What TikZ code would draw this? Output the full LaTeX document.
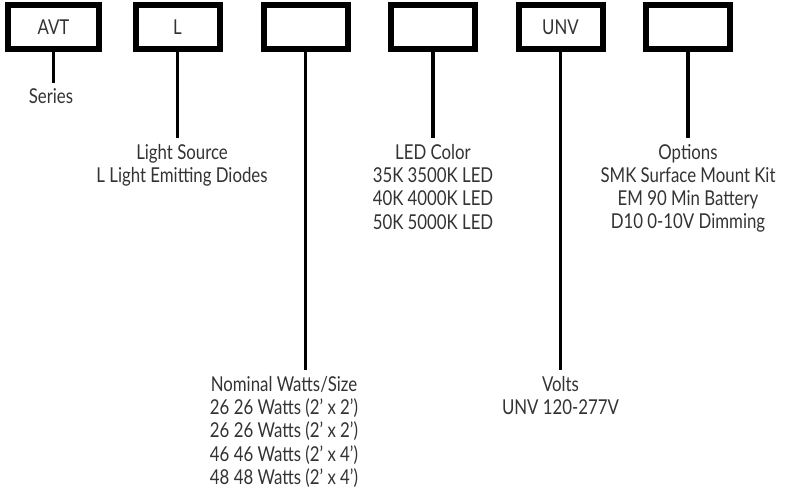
\documentclass[tikz,border=0pt]{standalone}
\usepackage{fontspec}
\setmainfont{Lato}[FakeStretch=0.82]
\usetikzlibrary{positioning}
\tikzset{
  % ordering-code boxes and the descriptions hanging below them
  codebox/.style = {draw=black, line width=6pt, minimum width=84pt,
                    minimum height=44pt, inner sep=0,
                    font=\fontsize{20.5}{23.3}\selectfont, text=black!80},
  stem/.style    = {line width=3.2pt, black},
  desc/.style    = {align=center, inner sep=0, outer sep=6pt, anchor=north,
                    font=\fontsize{20.5}{23.3}\selectfont, text=black!80},
}

\begin{document}
\begin{tikzpicture}[x=1pt,y=-1pt]
  \useasboundingbox (0,0) rectangle (788,490);
  % --- the code boxes ----------------------------------------------------
  \node[codebox, minimum width=91pt] (series) at (53.5,27) {AVT};
  \node[codebox] (source) at (177.5,27) {L};
  \node[codebox] (watts)  at (305.5,27) {};
  \node[codebox] (color)  at (433,27)   {};
  \node[codebox] (volts)  at (560.5,27) {UNV};
  \node[codebox] (opts)   at (688,27)   {};
  % --- descriptions ------------------------------------------------------
  \node[desc] (seriesTxt) at (51,83)   {Series};
  \node[desc] (sourceTxt) at (182,138) {Light Source\\L Light Emitting Diodes};
  \node[desc] (wattsTxt)  at (284,370) {Nominal Watts/Size\\26 26 Watts (2' x 2')\\
    26 26 Watts (2' x 2')\\46 46 Watts (2' x 4')\\48 48 Watts (2' x 4')};
  \node[desc] (colorTxt)  at (433,138) {LED Color\\35K 3500K LED\\40K 4000K LED\\50K 5000K LED};
  \node[desc] (voltsTxt)  at (560.5,370) {Volts\\UNV 120-277V};
  \node[desc] (optsTxt)   at (688,138) {Options\\SMK Surface Mount Kit\\EM 90 Min Battery\\D10 0-10V Dimming};
  % --- stems from box to description -------------------------------------
  \draw[stem] (series.south) -- (series.south |- seriesTxt.north);
  \draw[stem] (source.south) -- (source.south |- sourceTxt.north);
  \draw[stem] (watts.south)  -- (watts.south |- wattsTxt.north);
  \draw[stem] (color.south)  -- (color.south |- colorTxt.north);
  \draw[stem] (volts.south)  -- (volts.south |- voltsTxt.north);
  \draw[stem] (opts.south)   -- (opts.south |- optsTxt.north);
\end{tikzpicture}
\end{document}
